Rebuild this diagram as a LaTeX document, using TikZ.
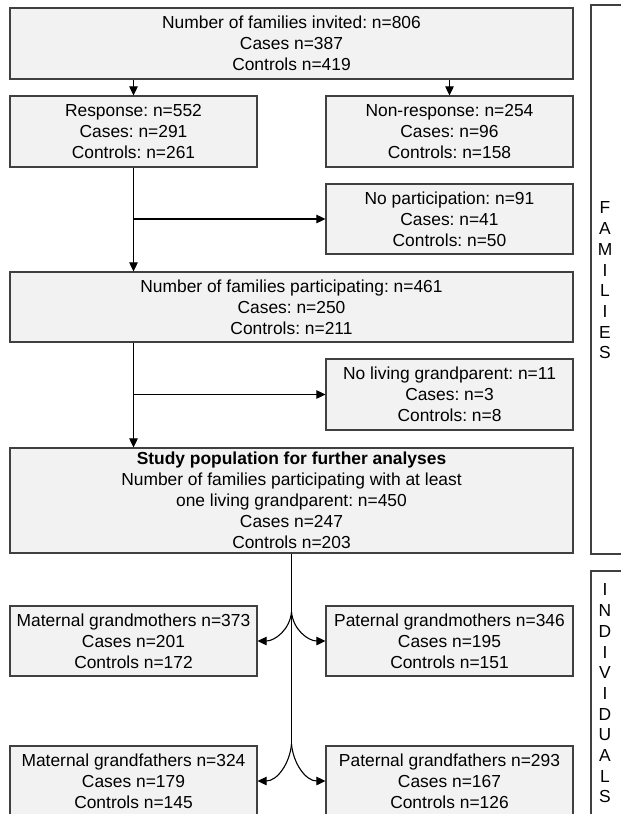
\documentclass[tikz,border=0pt]{standalone}
\usepackage{fontspec}
\setmainfont{Liberation Sans}
\usetikzlibrary{arrows.meta}
\definecolor{boxfill}{HTML}{F2F2F2}
\definecolor{boxline}{HTML}{404040}
\begin{document}
\frenchspacing
\begin{tikzpicture}[x=1pt,y=-1pt,
  box/.style={draw=boxline, fill=boxfill, line width=1.2pt, inner sep=0pt, align=center, font=\fontsize{17.4}{21}\selectfont},
  conn/.style={draw=black, line width=1.1pt, -{Triangle[length=9pt,width=8.5pt]}},
  trunk/.style={draw=black, line width=1.1pt},
  sidebox/.style={draw=boxline, fill=white, line width=1.2pt, inner sep=0pt},
  letters/.style={align=center, font=\fontsize{17.4}{20.7}\selectfont, inner sep=0pt}]
\clip (0,0) rectangle (621,814);
\fill[white] (0,0) rectangle (621,814);

\node[box, minimum width=563pt, minimum height=71pt] (top) at (291.5,43.5)
  {Number of families invited: n=806\\Cases n=387\\Controls n=419};
\node[box, minimum width=247pt, minimum height=71pt] (resp) at (133.5,131.5)
  {Response: n=552\\Cases: n=291\\Controls: n=261};
\node[box, minimum width=247pt, minimum height=71pt] (nonresp) at (449.5,131.5)
  {Non-response: n=254\\Cases: n=96\\Controls: n=158};
\node[box, minimum width=247pt, minimum height=70pt] (nopart) at (449.5,219)
  {No participation: n=91\\Cases: n=41\\Controls: n=50};
\node[box, minimum width=563pt, minimum height=70pt] (part) at (291.5,307)
  {Number of families participating: n=461\\Cases: n=250\\Controls: n=211};
\node[box, minimum width=247pt, minimum height=71pt] (noliv) at (449.5,394.5)
  {No living grandparent: n=11\\Cases: n=3\\Controls: n=8};
\node[box, minimum width=563pt, minimum height=105pt] (study) at (291.5,500.5)
  {{\bfseries Study population for further analyses}\\Number of families participating with at least\\one living grandparent: n=450\\Cases n=247\\Controls n=203};
\node[box, minimum width=247pt, minimum height=70pt] (mgm) at (133.5,641)
  {Maternal grandmothers n=373\\Cases n=201\\Controls n=172};
\node[box, minimum width=247pt, minimum height=70pt] (pgm) at (449.5,641)
  {Paternal grandmothers n=346\\Cases n=195\\Controls n=151};
\node[box, minimum width=247pt, minimum height=70pt] (mgf) at (133.5,781)
  {Maternal grandfathers n=324\\Cases n=179\\Controls n=145};
\node[box, minimum width=247pt, minimum height=70pt] (pgf) at (449.5,781)
  {Paternal grandfathers n=293\\Cases n=167\\Controls n=126};

\node[sidebox, minimum width=36pt, minimum height=549pt] (fam) at (609,279.5) {};
\node[letters] (famtxt) at (605,280.5) {F\\A\\M\\I\\L\\I\\E\\S};
\node[sidebox, minimum width=36pt, minimum height=245pt] (ind) at (609,693.5) {};
\node[letters] (indtxt) at (605,693.5) {I\\N\\D\\I\\V\\I\\D\\U\\A\\L\\S};

\draw[conn] (top.south -| resp.north) -- (resp.north);
\draw[conn] (top.south -| nonresp.north) -- (nonresp.north);

\coordinate (b1) at (resp.south |- nopart.west);
\draw[conn] (resp.south) -- (resp.south |- part.north);
\draw[conn] (b1) -- (nopart.west);

\coordinate (b2) at (resp.south |- noliv.west);
\draw[conn] (resp.south |- part.south) -- (resp.south |- study.north);
\draw[conn] (b2) -- (noliv.west);

\coordinate (f1) at (291.5,612);
\coordinate (f2) at (291.5,744);
\draw[trunk] (study.south) -- (f2);
\draw[conn] (f1) to[out=-95,in=0] (mgm.east);
\draw[conn] (f1) to[out=-85,in=180] (pgm.west);
\draw[conn] (f2) to[out=-95,in=0] (mgf.east);
\draw[conn] (f2) to[out=-85,in=180] (pgf.west);
\end{tikzpicture}
\end{document}
